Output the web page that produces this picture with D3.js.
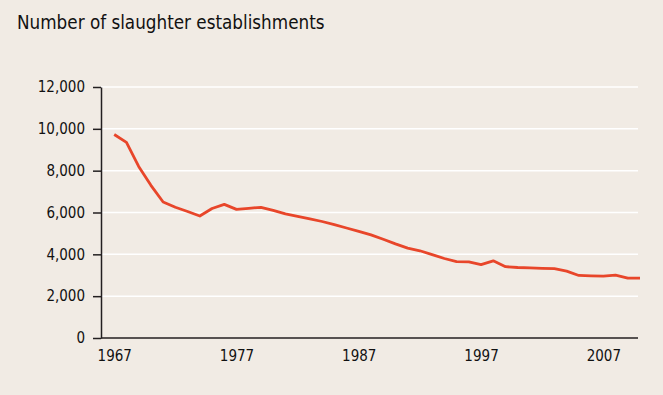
<!DOCTYPE html>
<meta charset="utf-8">
<script src="https://cdn.jsdelivr.net/npm/d3@7/dist/d3.min.js"></script>
<style>
body { margin: 0; background: #f1ebe4; }
svg { display: block; font-family: "DejaVu Sans", sans-serif; font-stretch: condensed; }
.grid line { stroke: #fff; stroke-width: 1.5; }
.axis path, .axis line { stroke: #231f20; stroke-width: 1.5; }
.axis text { fill: #111; font-size: 15px; font-family: "DejaVu Sans", sans-serif; font-stretch: condensed; }
.title { fill: #111; font-size: 18.7px; }
</style>
<svg width="663" height="395"></svg>
<script>

// data
var years = d3.range(1967, 2011);
var counts = [9730, 9350, 8200, 7300, 6500, 6250, 6050, 5830, 6190, 6390,
              6150, 6200, 6250, 6100, 5930, 5820, 5700, 5570, 5420, 5260,
              5100, 4930, 4720, 4500, 4300, 4170, 3990, 3800, 3650, 3640,
              3510, 3690, 3410, 3370, 3350, 3330, 3320, 3200, 2990, 2970,
              2960, 3010, 2860, 2860];
var yTicks = [0, 2000, 4000, 6000, 8000, 10000, 12000];
var xTicks = [1967, 1977, 1987, 1997, 2007];

var svg = d3.select("svg");

var plotLeft = 101, plotRight = 638, plotTop = 87, plotBottom = 338;

var x = d3.scaleLinear().domain([1966, 2010]).range([102, 640]);
var y = d3.scaleLinear().domain([0, 12000]).range([plotBottom, plotTop]);

svg.append("text")
    .attr("class", "title")
    .attr("x", 17)
    .attr("y", 29)
    .text("Number of slaughter establishments");

// gridlines
svg.append("g")
    .attr("class", "grid")
    .selectAll("line")
    .data(yTicks.slice(1))
    .enter().append("line")
    .attr("x1", plotLeft)
    .attr("x2", plotRight)
    .attr("y1", function(d) { return y(d); })
    .attr("y2", function(d) { return y(d); });

// y axis
var yAxis = svg.append("g")
    .attr("class", "axis")
    .attr("transform", "translate(" + plotLeft + ",0)")
    .call(d3.axisLeft(y).tickValues(yTicks).tickSize(8).tickPadding(8)
        .tickFormat(d3.format(",")).tickSizeOuter(0));

// x axis
var xAxis = svg.append("g")
    .attr("class", "axis")
    .attr("transform", "translate(0," + plotBottom + ")")
    .call(d3.axisBottom(x).tickValues(xTicks).tickSize(0).tickPadding(12)
        .tickFormat(d3.format("d")));
xAxis.select(".domain").attr("d", "M" + plotLeft + ",0H" + plotRight);

var line = d3.line()
    .x(function(d, i) { return x(years[i]); })
    .y(function(d) { return y(d); });

svg.append("path")
    .datum(counts)
    .attr("fill", "none")
    .attr("stroke", "#e8462a")
    .attr("stroke-width", 2.8)
    .attr("stroke-linejoin", "round")
    .attr("d", line);

</script>
